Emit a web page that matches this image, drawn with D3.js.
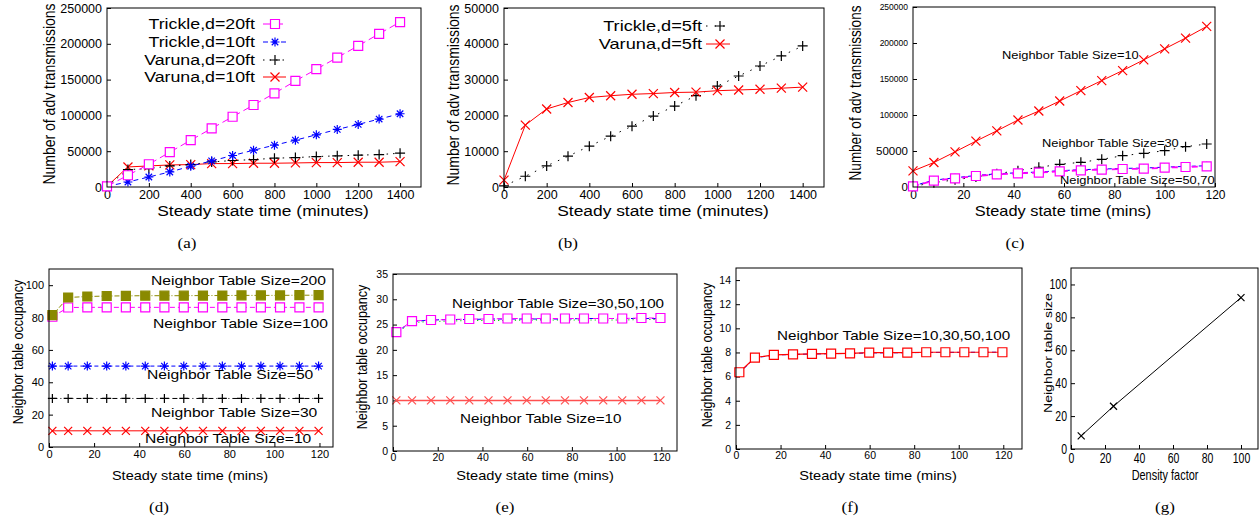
<!DOCTYPE html>
<html>
<head>
<meta charset="utf-8">
<script src="https://cdn.jsdelivr.net/npm/d3@7"></script>
<style>
  body { margin: 0; background: #fff; }
  svg text { font-family: "Liberation Sans", Arial, sans-serif; fill: #000; }
</style>
</head>
<body>
<svg id="fig" width="1260" height="525"></svg>
<script>
// ---- data ----
// (a) + (b): adv transmissions vs steady state time (minutes)
const minutesX = [0, 100, 200, 300, 400, 500, 600, 700, 800, 900, 1000, 1100, 1200, 1300, 1400];
const trickle20ft = [1000, 16400, 31800, 48600, 65400, 81800, 98100, 114500, 130800, 148100, 164500, 180800, 197200, 214000, 230400];
const trickle10ft = [1000, 7000, 14000, 21000, 29000, 36500, 44000, 51400, 58400, 65400, 72900, 80400, 87400, 94900, 102300];
const varuna20ft = [1000, 24300, 25700, 29400, 31300, 35000, 37000, 38300, 40200, 41100, 42500, 43500, 44400, 45300, 47200];
const varuna10ft = [1000, 28000, 29400, 30800, 31300, 32700, 32700, 33200, 33200, 33600, 34100, 34100, 34600, 34600, 35500];
const trickle5ft = [300, 3000, 5900, 8600, 11400, 14200, 17000, 19800, 22600, 25500, 28200, 31000, 33800, 36600, 39400];
const varuna5ft = [1900, 17300, 21800, 23600, 25000, 25500, 25900, 26100, 26400, 26500, 26900, 27100, 27300, 27600, 27900];

// (c): adv transmissions vs time (mins), per neighbor table size
const tableX = [0, 8.3, 16.7, 25, 33.3, 41.7, 50, 58.3, 66.7, 75, 83.3, 91.7, 100, 108.3, 116.7];
const advTable10 = [22300, 34000, 48800, 63700, 78000, 93000, 105500, 119400, 133800, 147800, 161700, 176600, 191900, 206800, 223000];
const advTable30 = [1000, 6000, 10000, 14000, 18500, 22700, 27400, 31500, 34300, 38400, 43500, 46800, 50400, 56000, 59700];
const advTable50 = [1500, 9500, 12800, 16000, 18300, 19800, 20800, 22600, 24000, 24900, 25800, 26300, 27600, 28600, 29500];
const advTable70 = [1000, 8800, 12000, 15300, 17600, 19000, 19900, 21800, 23200, 24100, 25000, 25400, 26800, 27800, 28700];

// (d)(e)(f): neighbor table occupancy vs time (mins)
const occX = [1.5, 8.5, 17, 25.6, 34.1, 42.7, 51.2, 59.8, 68.3, 76.9, 85.4, 94, 102.5, 111.1, 119.6];
const occD200 = [81.5, 92.4, 93, 93.3, 93.4, 93.5, 93.5, 93.5, 93.6, 93.6, 93.7, 93.7, 93.7, 93.8, 93.8];
const occD100 = [80.5, 86.2, 86.3, 86.3, 86.3, 86.3, 86.3, 86.3, 86.3, 86.3, 86.3, 86.3, 86.3, 86.3, 86.3];
const occD50 = [50, 50, 50, 50, 50, 50, 50, 50, 50, 50, 50, 50, 50, 50, 50];
const occD30 = [30, 30, 30, 30, 30, 30, 30, 30, 30, 30, 30, 30, 30, 30, 30];
const occD10 = [10, 10, 10, 10, 10, 10, 10, 10, 10, 10, 10, 10, 10, 10, 10];
const occE100 = [23.5, 25.7, 25.9, 26.0, 26.1, 26.1, 26.2, 26.2, 26.2, 26.2, 26.2, 26.2, 26.2, 26.3, 26.3];
const occE50 = [23.5, 25.6, 25.9, 26.0, 26.0, 26.1, 26.1, 26.1, 26.1, 26.1, 26.2, 26.2, 26.2, 26.2, 26.2];
const occE30 = [23.3, 25.4, 25.6, 25.7, 25.8, 25.8, 25.8, 25.9, 25.9, 25.9, 25.9, 25.9, 25.9, 26.0, 26.0];
const occE10 = [10, 10, 10, 10, 10, 10, 10, 10, 10, 10, 10, 10, 10, 10, 10];
const occF10 = [6.36, 7.58, 7.8, 7.85, 7.88, 7.9, 7.93, 7.98, 7.98, 7.99, 8.02, 8.02, 8.02, 8.02, 8.02];
const occF50 = [6.3, 7.55, 7.78, 7.84, 7.87, 7.9, 7.92, 7.96, 7.97, 7.98, 8.0, 8.01, 8.01, 8.02, 8.02];

// (g): neighbor table size vs density factor
const densityX = [6, 25, 100];
const tableSize = [8, 26, 92];

// tick values
const minuteTicks = [0, 200, 400, 600, 800, 1000, 1200, 1400];
const minsTicks = [0, 20, 40, 60, 80, 100, 120];
const advTicks = [0, 50000, 100000, 150000, 200000, 250000];
const adv5Ticks = [0, 10000, 20000, 30000, 40000, 50000];
const occTicks = [0, 20, 40, 60, 80, 100];
const occETicks = [0, 5, 10, 15, 20, 25, 30, 35];
const occFTicks = [0, 2, 4, 6, 8, 10, 12, 14];
const densityTicks = [0, 20, 40, 60, 80, 100];

const MAGENTA = '#ff00ff', BLUE = '#0000ff', RED = '#ff0000', BLACK = '#000', OLIVE = '#8a8a00', GREEN = '#00cc00';

// the scanned figure is stretched sideways, so text is widened a bit
const STRETCH = 1.2;

const svg = d3.select('#fig');

// marker shapes like gnuplot point types
function markerPath(type, s) {
    const t = s * 0.72;
    switch (type) {
        case 'plus': return `M${-s},0H${s}M0,${-s}V${s}`;
        case 'cross': return `M${-s},${-s}L${s},${s}M${-s},${s}L${s},${-s}`;
        case 'star': return `M${-s},0H${s}M0,${-s}V${s}M${-t},${-t}L${t},${t}M${-t},${t}L${t},${-t}`;
        case 'square': return `M${-s},${-s}H${s}V${s}H${-s}Z`;
    }
    return '';
}

function drawMarker(g, type, cx, cy, s, color, fill) {
    g.append('path')
        .attr('d', markerPath(type, s))
        .attr('transform', `translate(${cx},${cy})`)
        .attr('fill', type === 'square' ? (fill || '#fff') : 'none')
        .attr('stroke', color)
        .attr('stroke-width', 1.2);
}

// horizontal text, widened by k around its anchor point
function wideText(g, x, y, str, size, anchor, k, family) {
    const t = g.append('text')
        .attr('transform', `translate(${x},${y}) scale(${k},1)`)
        .attr('dy', '0.35em')
        .attr('text-anchor', anchor)
        .style('font-size', size + 'px')
        .text(str);
    if (family) t.style('font-family', family);
    return t;
}

function drawPanel(p) {
    const g = svg.append('g');
    const [x0, y0, x1, y1] = p.box;
    const x = d3.scaleLinear().domain(p.xDomain).range([x0, x1]);
    const y = d3.scaleLinear().domain(p.yDomain).range([y1, y0]);
    const font = p.font || '"Liberation Sans", Arial, sans-serif';
    const k = p.stretch || STRETCH;
    const tk = p.tickStretch || 1;
    const yPad = p.yPad || 5;

    // axes, gnuplot style: ticks pointing inwards
    const gx = g.append('g').attr('transform', `translate(0,${y1})`)
        .call(d3.axisBottom(x).tickValues(p.xTicks).tickSizeInner(-4).tickSizeOuter(0).tickPadding(p.xPad || 3)
            .tickFormat(d3.format('d')));
    const gy = g.append('g').attr('transform', `translate(${x0},0)`)
        .call(d3.axisLeft(y).tickValues(p.yTicks).tickSizeInner(-4).tickSizeOuter(0).tickPadding(yPad)
            .tickFormat(d3.format('d')));
    [gx, gy].forEach(a => {
        a.select('.domain').remove();
        a.attr('font-family', null).attr('font-size', null);
        a.selectAll('.tick line').attr('stroke', '#000');
        a.selectAll('.tick text').style('font-family', font).attr('transform', `scale(${tk},1)`);
    });
    gy.selectAll('.tick text').attr('x', -yPad / tk);
    gx.selectAll('.tick text').style('font-size', p.tickFont + 'px');
    gy.selectAll('.tick text').style('font-size', d => (p.yTickFont ? p.yTickFont(d) : p.tickFont) + 'px');

    // series
    const line = d3.line().x(d => x(d[0])).y(d => y(d[1]));
    p.series.forEach(s => {
        const pts = d3.zip(s.x, s.y);
        g.append('path')
            .attr('d', line(pts))
            .attr('fill', 'none')
            .attr('stroke', s.color)
            .attr('stroke-width', s.width || 1)
            .attr('stroke-dasharray', s.dash || null);
        if (s.marker) {
            pts.forEach(d => drawMarker(g, s.marker, x(d[0]), y(d[1]), s.size || 4, s.color, s.fill));
        }
    });

    // frame
    g.append('rect')
        .attr('x', x0).attr('y', y0)
        .attr('width', x1 - x0).attr('height', y1 - y0)
        .attr('fill', 'none').attr('stroke', '#000').attr('stroke-width', 1);

    // legend
    (p.legend || []).forEach(l => {
        wideText(g, l.tx, l.y, l.label, p.legendFont, 'end', p.legendStretch || k);
        g.append('line')
            .attr('x1', l.l1).attr('x2', l.l2).attr('y1', l.y).attr('y2', l.y)
            .attr('stroke', l.s.color).attr('stroke-width', l.s.width || 1)
            .attr('stroke-dasharray', l.s.dash || null);
        drawMarker(g, l.s.marker, l.m, l.y, l.s.size || 4, l.s.color, l.s.fill);
    });

    // annotations inside the plot
    (p.notes || []).forEach(n => wideText(g, n.x, n.y, n.text, p.noteFont, 'start', k));

    // axis titles
    wideText(g, p.xTitle[1], p.xTitle[2], p.xTitle[0], p.titleFont, 'middle', k, font);
    g.append('text')
        .attr('transform', `translate(${p.yTitle[1]},${p.yTitle[2]}) rotate(-90) scale(1,${k})`)
        .attr('dy', '0.35em')
        .attr('text-anchor', 'middle')
        .style('font-size', (p.yTitleFont || p.titleFont) + 'px').style('font-family', font)
        .text(p.yTitle[0]);

    // caption
    wideText(svg, p.caption[1], p.caption[2], p.caption[0], 15.5, 'middle', 1.1,
        '"Liberation Serif", "Times New Roman", serif');
}

// ---- (a) ----
const sA = [
    { x: minutesX, y: varuna10ft, color: RED, marker: 'cross', size: 4.5 },
    { x: minutesX, y: varuna20ft, color: BLACK, dash: '1.5,5', marker: 'plus', size: 5 },
    { x: minutesX, y: trickle10ft, color: BLUE, dash: '5,4', marker: 'star', size: 4.5 },
    { x: minutesX, y: trickle20ft, color: MAGENTA, dash: '8,4', marker: 'square', size: 4.5 }
];
drawPanel({
    box: [107, 8, 421, 187], xDomain: [0, 1500], yDomain: [0, 250000],
    xTicks: minuteTicks, yTicks: advTicks, tickFont: 12.5,
    series: sA,
    legendFont: 14, legendStretch: 1.27,
    legend: [
        { label: 'Trickle,d=20ft', s: sA[3], tx: 255, y: 24, l1: 263, l2: 286, m: 275 },
        { label: 'Trickle,d=10ft', s: sA[2], tx: 255, y: 42, l1: 263, l2: 286, m: 275 },
        { label: 'Varuna,d=20ft', s: sA[1], tx: 255, y: 60, l1: 263, l2: 286, m: 275 },
        { label: 'Varuna,d=10ft', s: sA[0], tx: 255, y: 77, l1: 263, l2: 286, m: 275 }
    ],
    titleFont: 14.5, yTitleFont: 14,
    xTitle: ['Steady state time (minutes)', 263, 211],
    yTitle: ['Number of adv transmissions', 49, 94],
    caption: ['(a)', 187, 243]
});

// ---- (b) ----
const sB = [
    { x: minutesX, y: trickle5ft, color: BLACK, dash: '1.5,7', marker: 'plus', size: 5 },
    { x: minutesX, y: varuna5ft, color: RED, marker: 'cross', size: 4.5 }
];
drawPanel({
    box: [504, 8, 824, 187], xDomain: [0, 1500], yDomain: [0, 50000],
    xTicks: minuteTicks, yTicks: adv5Ticks, tickFont: 12.5,
    series: sB,
    legendFont: 14, legendStretch: 1.3,
    legend: [
        { label: 'Trickle,d=5ft', s: sB[0], tx: 702, y: 26, l1: 706, l2: 730, m: 720 },
        { label: 'Varuna,d=5ft', s: sB[1], tx: 702, y: 44, l1: 706, l2: 730, m: 720 }
    ],
    titleFont: 14.5, yTitleFont: 14,
    xTitle: ['Steady state time (minutes)', 663, 211],
    yTitle: ['Number of adv transmissions', 453, 95],
    caption: ['(b)', 568, 243]
});

// ---- (c) ----
drawPanel({
    box: [913, 7, 1215, 187], xDomain: [0, 120], yDomain: [0, 250000],
    xTicks: minsTicks, yTicks: advTicks, tickFont: 12,
    yTickFont: d => (d <= 50000 ? 11.5 : 8.5),
    series: [
        { x: tableX, y: advTable10, color: RED, marker: 'cross', size: 4.5 },
        { x: tableX, y: advTable30, color: BLACK, dash: '1.5,7', marker: 'plus', size: 5 },
        { x: tableX, y: advTable50, color: BLUE, dash: '4,3', marker: 'star', size: 4 },
        { x: tableX, y: advTable70, color: MAGENTA, dash: '6,4', width: 1.8, marker: 'square', size: 4.5 }
    ],
    noteFont: 11, stretch: 1.17,
    notes: [
        { text: 'Neighbor Table Size=10', x: 1002, y: 55 },
        { text: 'Neighbor Table Size=30', x: 1042, y: 143 },
        { text: 'Neighbor Table Size=50,70', x: 1060, y: 180 }
    ],
    titleFont: 14, yTitleFont: 13.5,
    xTitle: ['Steady state time (mins)', 1063, 211],
    yTitle: ['Number of adv transmissions', 855, 93],
    caption: ['(c)', 1015, 243]
});

// ---- (d) ----
drawPanel({
    box: [49, 269, 333, 447], xDomain: [0, 126], yDomain: [0, 110],
    xTicks: minsTicks, yTicks: occTicks, tickFont: 11,
    series: [
        { x: occX, y: occD10, color: RED, marker: 'cross', size: 4 },
        { x: occX, y: occD30, color: BLACK, dash: '5,3,1,3', marker: 'plus', size: 4.5 },
        { x: occX, y: occD50, color: BLUE, dash: '4,3', marker: 'star', size: 4.5 },
        { x: occX, y: occD100, color: MAGENTA, dash: '5,3', marker: 'square', size: 4.5 },
        { x: occX, y: occD200, color: OLIVE, dash: '5,2,1,2', marker: 'square', size: 4.5, fill: OLIVE }
    ],
    noteFont: 13.5, stretch: 1.16,
    notes: [
        { text: 'Neighbor Table Size=200', x: 151, y: 280 },
        { text: 'Neighbor Table Size=100', x: 153, y: 323 },
        { text: 'Neighbor Table Size=50', x: 147, y: 374 },
        { text: 'Neighbor Table Size=30', x: 151, y: 412 },
        { text: 'Neighbor Table Size=10', x: 145, y: 438 }
    ],
    titleFont: 12.5,
    xTitle: ['Steady state time (mins)', 190, 476],
    yTitle: ['Neighbor table occupancy', 18, 352],
    caption: ['(d)', 159, 507]
});

// ---- (e) ----
drawPanel({
    box: [393, 274, 677, 451], xDomain: [0, 127], yDomain: [0, 35],
    xTicks: minsTicks, yTicks: occETicks, tickFont: 10.5,
    series: [
        { x: occX, y: occE10, color: '#ff5050', width: 1.4, marker: 'cross', size: 4 },
        { x: occX, y: occE30, color: GREEN, dash: '1.2,3' },
        { x: occX, y: occE50, color: BLUE, dash: '4,3' },
        { x: occX, y: occE100, color: MAGENTA, dash: '5,3', marker: 'square', size: 4.5 }
    ],
    noteFont: 13, stretch: 1.17,
    notes: [
        { text: 'Neighbor Table Size=30,50,100', x: 452, y: 303 },
        { text: 'Neighbor Table Size=10', x: 460, y: 418 }
    ],
    titleFont: 12.5,
    xTitle: ['Steady state time (mins)', 535, 476],
    yTitle: ['Neighbor table occupancy', 362, 357],
    caption: ['(e)', 505, 507]
});

// ---- (f) ----
drawPanel({
    box: [736, 268, 1022, 449], xDomain: [0, 128.4], yDomain: [0, 15],
    xTicks: minsTicks, yTicks: occFTicks, tickFont: 10.5,
    series: [
        { x: occX, y: occF50, color: BLUE, dash: '4,3' },
        { x: occX, y: occF10, color: RED, width: 1.2, marker: 'square', size: 4.5 }
    ],
    noteFont: 13, stretch: 1.17,
    notes: [
        { text: 'Neighbor Table Size=10,30,50,100', x: 777, y: 335 }
    ],
    titleFont: 12.5,
    xTitle: ['Steady state time (mins)', 878, 476],
    yTitle: ['Neighbor table occupancy', 707, 355],
    caption: ['(f)', 850, 507]
});

// ---- (g) ----
drawPanel({
    box: [1071, 268, 1258, 449], xDomain: [0, 110], yDomain: [0, 110],
    xTicks: densityTicks, yTicks: densityTicks, tickFont: 14, xPad: 4, yPad: 4,
    tickStretch: 0.75, stretch: 0.78,
    series: [
        { x: densityX, y: tableSize, color: BLACK, marker: 'cross', size: 3.5 }
    ],
    titleFont: 14, yTitleFont: 14,
    xTitle: ['Density factor', 1165, 475],
    yTitle: ['Neighbor table size', 1048, 353],
    caption: ['(g)', 1165, 507]
});
</script>
</body>
</html>
